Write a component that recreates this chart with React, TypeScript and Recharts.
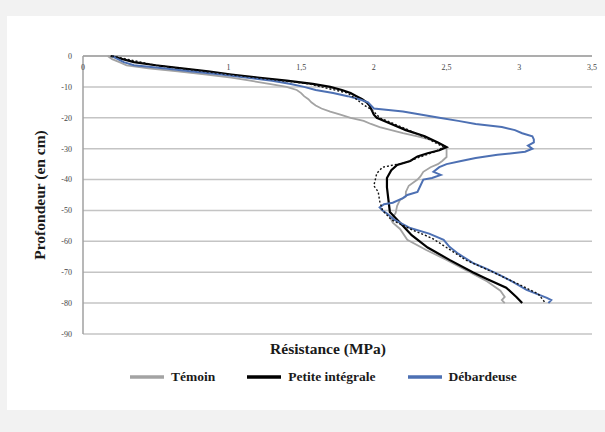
import React from 'react'
import { CartesianGrid, Scatter, ScatterChart, XAxis, YAxis } from 'recharts'

/* depth (cm, negative downwards) / resistance (MPa) per treatment */
const temoinDepth = [0, -1, -2, -3, -4, -5, -6, -7, -8, -9, -10, -11, -12, -13, -14, -15, -16, -17, -18, -19, -20, -21, -22, -23, -24, -25, -26, -27, -28, -29.5, -31, -32.7, -34, -35, -36, -37.5, -39, -40, -42, -44, -45.5, -46.6, -48.5, -50.8, -53, -54, -56, -59.5, -62.8, -66, -70, -73, -76, -78, -79, -80]
const temoinRes = [0.17, 0.2, 0.25, 0.3, 0.45, 0.65, 0.85, 1.02, 1.15, 1.28, 1.4, 1.47, 1.5, 1.52, 1.55, 1.57, 1.6, 1.64, 1.7, 1.77, 1.84, 1.93, 1.98, 2.04, 2.12, 2.2, 2.3, 2.38, 2.44, 2.5, 2.5, 2.5, 2.47, 2.44, 2.39, 2.34, 2.32, 2.3, 2.24, 2.22, 2.22, 2.18, 2.16, 2.15, 2.12, 2.13, 2.18, 2.23, 2.36, 2.5, 2.66, 2.78, 2.87, 2.9, 2.88, 2.9]

const petiteDepth = [0, -2, -3, -4, -5, -6, -7, -8, -9, -10, -11, -12, -13, -14, -15, -16, -17, -18, -19, -20, -22, -24, -26, -28, -29.5, -30.5, -31.5, -32.5, -34, -35.3, -37, -39.5, -42.5, -46.5, -50.5, -54, -58, -62, -66, -70, -72, -75, -78, -80]
const petiteRes = [0.19, 0.35, 0.5, 0.68, 0.86, 1.02, 1.2, 1.4, 1.58, 1.7, 1.78, 1.84, 1.88, 1.92, 1.95, 1.97, 1.98, 1.99, 2.0, 2.02, 2.12, 2.22, 2.35, 2.44, 2.5, 2.45, 2.37, 2.3, 2.25, 2.16, 2.12, 2.09, 2.09, 2.1, 2.11, 2.18, 2.26, 2.37, 2.52, 2.68, 2.77, 2.91, 2.98, 3.02]

const debardDepth = [0, -1, -2, -3, -4, -5, -6, -7, -8, -9, -10, -11, -12, -13, -14, -15, -16, -17, -17.5, -18, -19, -20, -21, -22, -23, -24, -25, -26, -27, -28, -29, -30, -31, -32, -33, -34, -35, -36, -37.5, -38.5, -39.5, -40, -42, -44, -45, -46, -47.5, -48, -49, -50, -51, -53, -55.7, -57.5, -59.5, -61.8, -64, -67, -69, -71, -73, -75.7, -77, -78.3, -79, -80]
const debardRes = [0.2, 0.24, 0.28, 0.35, 0.55, 0.75, 0.95, 1.12, 1.3, 1.42, 1.52, 1.6, 1.72, 1.82, 1.9, 1.96, 1.98, 2.0, 2.1, 2.2, 2.33, 2.45, 2.58, 2.7, 2.88, 2.97, 3.02, 3.09, 3.1, 3.1, 3.06, 3.09, 3.04, 2.85, 2.7, 2.6, 2.5, 2.45, 2.41, 2.46, 2.4, 2.34, 2.32, 2.3, 2.23, 2.2, 2.13, 2.07, 2.04, 2.06, 2.09, 2.14, 2.25, 2.38, 2.48, 2.52, 2.58, 2.68, 2.78, 2.87, 2.95, 3.05, 3.12, 3.19, 3.22, 3.2]

// unlabelled dotted repeat in the original figure
const dottedDepth = [0, -3, -6, -9, -12, -14, -15.5, -17, -18, -20, -24, -27, -29.5, -31, -33, -34.5, -36, -38, -40, -42, -44, -47, -50, -53, -56, -59, -62, -66, -70, -74, -77, -80]
const dottedRes = [0.2, 0.5, 1.0, 1.55, 1.82, 1.88, 1.92, 1.97, 2.0, 2.04, 2.24, 2.38, 2.48, 2.42, 2.3, 2.22, 2.06, 2.02, 2.01, 2.0, 2.03, 2.04, 2.06, 2.12, 2.25, 2.4, 2.5, 2.63, 2.82, 3.0, 3.13, 3.18]

const xTicks = [0, 0.5, 1, 1.5, 2, 2.5, 3, 3.5]
const yTicks = [0, -10, -20, -30, -40, -50, -60, -70, -80, -90]

const toPts = (ds: number[], vs: number[]) => ds.map((d, i) => ({ x: vs[i], y: d }))

const series = [
  { name: 'Témoin', color: '#a3a3a3', width: 1.8, pts: toPts(temoinDepth, temoinRes) },
  { name: 'Petite intégrale', color: '#000000', width: 2.2, pts: toPts(petiteDepth, petiteRes) },
  { name: 'Débardeuse', color: '#4d70b3', width: 2, pts: toPts(debardDepth, debardRes) },
]

const serif = '"Liberation Serif", "Times New Roman", Times, serif'
const noDot = () => <g />

export default function App() {
  return (
    <div style={{ position: 'absolute', left: 0, top: 0, width: 605, height: 432, background: '#f2f2f2' }}>
      <div style={{ position: 'absolute', left: 7, top: 16, width: 598, height: 394, background: '#fff' }} />
      <div style={{ position: 'absolute', left: 0, top: 0 }}>
        <ScatterChart width={605} height={432} margin={{ top: 56, right: 13, bottom: 98, left: 53 }}>
          <CartesianGrid vertical={false} stroke="#c4c4c4" strokeWidth={1.5} />
          <XAxis
            type="number"
            dataKey="x"
            orientation="top"
            mirror
            domain={[0, 3.5]}
            ticks={xTicks}
            tickLine={false}
            axisLine={{ stroke: '#a0a0a0', strokeWidth: 1.5 }}
            tick={{ fontSize: 8, fill: '#444', fontFamily: serif }}
            tickFormatter={(v: number) => (v === 0.5 ? '' : String(v).replace('.', ','))}
          />
          <YAxis
            type="number"
            dataKey="y"
            domain={[-90, 0]}
            ticks={yTicks}
            width={30}
            tickSize={8}
            tickMargin={3}
            tickLine={false}
            axisLine={{ stroke: '#a0a0a0', strokeWidth: 1.5 }}
            tick={{ fontSize: 8, fill: '#444', fontFamily: serif }}
          />
          {series.map((s) => (
            <Scatter
              key={s.name}
              name={s.name}
              data={s.pts}
              shape={noDot}
              line={{ stroke: s.color, strokeWidth: s.width, fill: 'none' }}
              lineType="joint"
              isAnimationActive={false}
            />
          ))}
          <Scatter
            name="dotted"
            data={toPts(dottedDepth, dottedRes)}
            shape={noDot}
            line={{ stroke: '#111', strokeWidth: 1.4, strokeDasharray: '2 2', fill: 'none' }}
            lineType="joint"
            isAnimationActive={false}
          />
        </ScatterChart>
      </div>
      <div
        style={{
          position: 'absolute', left: 40, top: 195, transform: 'translate(-50%, -50%) rotate(-90deg)',
          fontFamily: serif, fontWeight: 'bold', fontSize: 15.5, color: '#1a1a1a', whiteSpace: 'nowrap',
        }}
      >
        Profondeur (en cm)
      </div>
      <div
        style={{
          position: 'absolute', left: 328, top: 349, transform: 'translate(-50%, -50%)',
          fontFamily: serif, fontWeight: 'bold', fontSize: 15.5, color: '#1a1a1a', whiteSpace: 'nowrap',
        }}
      >
        Résistance (MPa)
      </div>
      <div
        style={{
          position: 'absolute', left: 130, top: 369, display: 'flex', alignItems: 'center',
          fontFamily: serif, fontSize: 13.5, fontWeight: 'bold', color: '#1a1a1a',
        }}
      >
        {series.map((s) => (
          <span key={s.name} style={{ display: 'flex', alignItems: 'center', marginRight: 32 }}>
            <svg width={34} height={14} style={{ marginRight: 7 }}>
              <line x1={0} x2={34} y1={7} y2={7} stroke={s.color} strokeWidth={3.5} />
            </svg>
            {s.name}
          </span>
        ))}
      </div>
    </div>
  )
}
